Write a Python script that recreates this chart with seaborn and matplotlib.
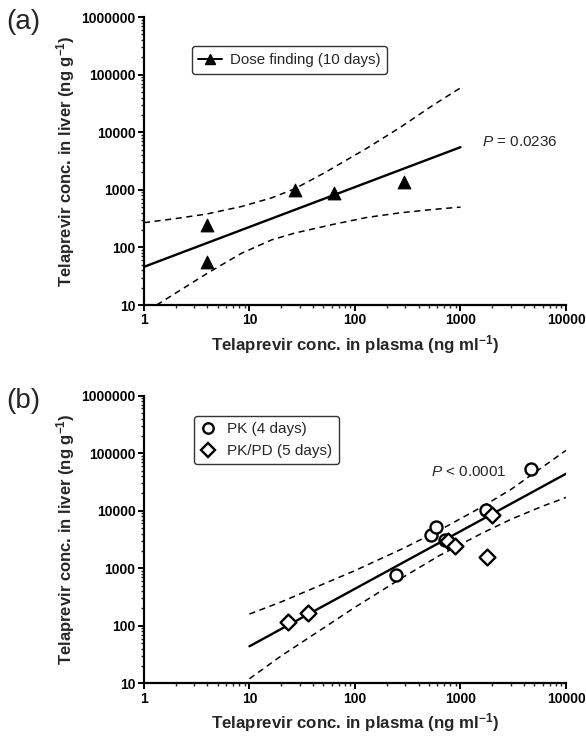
import numpy as np
import pandas as pd
import matplotlib
matplotlib.use("Agg")
import matplotlib.pyplot as plt
import seaborn as sns
from matplotlib.lines import Line2D
from matplotlib.ticker import FuncFormatter

# ---- data ----
# (a) dose finding (10 days)
dose_plasma = [4.0, 4.0, 27, 63, 290]
dose_liver = [250, 55, 1000, 890, 1380]
fit_a_x = [1, 1000]
fit_a_y = [46, 5500]
ci_a_up_x = [1, 1.97, 3.93, 8.4, 16.2, 27, 52, 129, 266, 550, 1000]
ci_a_up_y = [269, 316, 380, 513, 724, 1047, 1995, 5250, 12000, 29500, 58900]
ci_a_lo_x = [1.32, 3.93, 8.4, 16.2, 27, 62, 129, 266, 550, 1000]
ci_a_lo_y = [10, 35, 79, 135, 178, 251, 331, 398, 457, 501]

# (b) PK (4 days) and PK/PD (5 days)
pk_plasma = [247, 525, 590, 720, 1740, 4700]
pk_liver = [760, 3800, 5300, 3100, 10200, 54000]
pkpd_plasma = [23, 36, 760, 880, 1780, 2000]
pkpd_liver = [118, 170, 3000, 2450, 1550, 8500]
fit_b_x = [10, 10000]
fit_b_y = [44, 44000]
ci_b_x = [10, 20, 37, 100, 290, 630, 1600, 3000, 6000, 10000]
ci_b_up = [160, 260, 420, 910, 2240, 4570, 11700, 23400, 57500, 112000]
ci_b_lo = [12, 30, 63, 210, 710, 1660, 4070, 7080, 12000, 17000]

xlabel = r"Telaprevir conc. in plasma (ng ml$^{\mathbf{-1}}$)"
ylabel = r"Telaprevir conc. in liver (ng g$^{\mathbf{-1}}$)"

sns.set_style("ticks")
plt.rcParams["font.family"] = ["Liberation Sans", "DejaVu Sans"]
plt.rcParams["mathtext.fontset"] = "custom"
plt.rcParams["mathtext.rm"] = "Liberation Sans"
plt.rcParams["mathtext.bf"] = "Liberation Sans:bold"
plt.rcParams["mathtext.it"] = "Liberation Sans:italic"

fig = plt.figure(figsize=(5.86, 7.4), dpi=100)
ax_a = fig.add_axes([0.2456, 0.5878, 0.7203, 0.3892])
ax_b = fig.add_axes([0.2456, 0.0766, 0.7203, 0.3887])

tick_family = ["Liberation Sans Narrow", "Liberation Sans", "DejaVu Sans"]


def style_axis(ax):
    ax.set_xscale("log")
    ax.set_yscale("log")
    ax.set_xlim(1, 10000)
    ax.set_ylim(10, 1000000)
    fmt = FuncFormatter(lambda v, p: f"{int(round(v))}")
    ax.xaxis.set_major_formatter(fmt)
    ax.yaxis.set_major_formatter(fmt)
    ax.xaxis.set_minor_formatter(plt.NullFormatter())
    ax.yaxis.set_minor_formatter(plt.NullFormatter())
    for s in ["top", "right"]:
        ax.spines[s].set_visible(False)
    for s in ["left", "bottom"]:
        ax.spines[s].set_linewidth(1.6)
        ax.spines[s].set_color("black")
    ax.tick_params(which="major", direction="out", length=4, width=1.4,
                   labelsize=10, pad=2, colors="black")
    ax.tick_params(which="minor", direction="out", length=2.5, width=1.0)
    for lab in ax.get_xticklabels() + ax.get_yticklabels():
        lab.set_fontweight("bold")
        lab.set_family(tick_family)
    ax.set_xlabel(xlabel, fontsize=12.2, fontweight="bold", labelpad=4)
    ax.set_ylabel(ylabel, fontsize=12.0, fontweight="bold", labelpad=3)


# ---- panel (a) ----
df_a = pd.DataFrame({"plasma": dose_plasma, "liver": dose_liver})
sns.lineplot(x=fit_a_x, y=fit_a_y, ax=ax_a, color="black", lw=1.7,
             estimator=None, sort=False)
sns.lineplot(x=ci_a_up_x, y=ci_a_up_y, ax=ax_a, color="black", lw=1.1,
             estimator=None, sort=False, linestyle=(0, (4, 3)))
sns.lineplot(x=ci_a_lo_x, y=ci_a_lo_y, ax=ax_a, color="black", lw=1.1,
             estimator=None, sort=False, linestyle=(0, (4, 3)))
sns.scatterplot(data=df_a, x="plasma", y="liver", ax=ax_a, marker="^",
                s=85, color="black", edgecolor="black", zorder=5)
style_axis(ax_a)
h_a = [Line2D([], [], color="black", lw=1.4, marker="^", markersize=7.5)]
leg = ax_a.legend(h_a, ["Dose finding (10 days)"], loc="upper left",
                  bbox_to_anchor=(0.095, 0.925), fontsize=10.8, frameon=True,
                  fancybox=True, edgecolor="black", handlelength=1.6,
                  handletextpad=0.5, borderpad=0.45)
leg.get_frame().set_linewidth(1.0)
ax_a.text(0.80, 0.566, r"$\it{P}$ = 0.0236", transform=ax_a.transAxes,
          fontsize=11, va="center", ha="left")

# ---- panel (b) ----
df_pk = pd.DataFrame({"plasma": pk_plasma, "liver": pk_liver})
df_pkpd = pd.DataFrame({"plasma": pkpd_plasma, "liver": pkpd_liver})
sns.lineplot(x=fit_b_x, y=fit_b_y, ax=ax_b, color="black", lw=1.7,
             estimator=None, sort=False)
sns.lineplot(x=ci_b_x, y=ci_b_up, ax=ax_b, color="black", lw=1.1,
             estimator=None, sort=False, linestyle=(0, (4, 3)))
sns.lineplot(x=ci_b_x, y=ci_b_lo, ax=ax_b, color="black", lw=1.1,
             estimator=None, sort=False, linestyle=(0, (4, 3)))
sns.scatterplot(data=df_pk, x="plasma", y="liver", ax=ax_b, marker="o",
                s=75, facecolor="white", edgecolor="black", linewidth=1.7,
                zorder=5)
sns.scatterplot(data=df_pkpd, x="plasma", y="liver", ax=ax_b, marker="D",
                s=65, facecolor="white", edgecolor="black", linewidth=1.7,
                zorder=5)
style_axis(ax_b)
h_b = [Line2D([], [], ls="none", marker="o", markersize=7.5, mfc="white",
              mec="black", mew=1.7),
       Line2D([], [], ls="none", marker="D", markersize=7, mfc="white",
              mec="black", mew=1.7)]
leg_b = ax_b.legend(h_b, ["PK (4 days)", "PK/PD (5 days)"], loc="upper left",
                    bbox_to_anchor=(0.10, 0.955), fontsize=11, frameon=True,
                    fancybox=True, edgecolor="black", handlelength=1.0,
                    handletextpad=0.8, labelspacing=0.5, borderpad=0.4)
leg_b.get_frame().set_linewidth(1.0)
ax_b.text(0.68, 0.736, r"$\it{P}$ < 0.0001", transform=ax_b.transAxes,
          fontsize=11, va="center", ha="left")

fig.text(0.010, 0.988, "(a)", fontsize=20, va="top", ha="left")
fig.text(0.010, 0.475, "(b)", fontsize=20, va="top", ha="left")

fig.savefig("out.png", dpi=100)
